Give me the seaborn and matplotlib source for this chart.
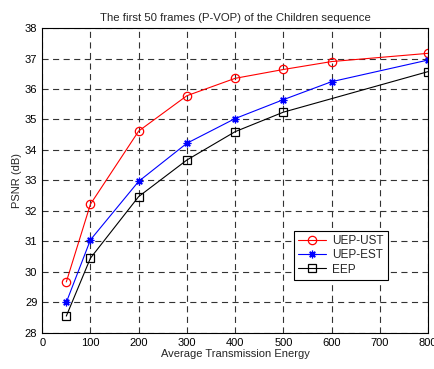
import matplotlib
matplotlib.use('Agg')
import matplotlib.pyplot as plt
import numpy as np
import pandas as pd
import seaborn as sns

# data
energy_ust = [50, 100, 200, 300, 400, 500, 600, 800]
psnr_ust = [29.67, 32.22, 34.62, 35.78, 36.35, 36.64, 36.90, 37.17]
energy_est = [50, 100, 200, 300, 400, 500, 600, 800]
psnr_est = [29.00, 31.05, 32.97, 34.22, 35.03, 35.65, 36.24, 36.95]
energy_eep = [50, 100, 200, 300, 400, 500, 800]
psnr_eep = [28.55, 30.45, 32.47, 33.67, 34.60, 35.24, 36.57]
series = ['UEP-UST', 'UEP-EST', 'EEP']

df = pd.concat([
    pd.DataFrame({'energy': energy_ust, 'psnr': psnr_ust, 'scheme': series[0]}),
    pd.DataFrame({'energy': energy_est, 'psnr': psnr_est, 'scheme': series[1]}),
    pd.DataFrame({'energy': energy_eep, 'psnr': psnr_eep, 'scheme': series[2]}),
]).reset_index(drop=True)

sns.set_style('white')
plt.rcParams['font.family'] = ['Liberation Sans', 'DejaVu Sans']

fig = plt.figure(figsize=(4.35, 3.69), dpi=100)
ax = fig.add_axes([0.097, 0.098, 0.887, 0.826])

palette = {'UEP-UST': 'red', 'UEP-EST': 'blue', 'EEP': 'black'}
markers = {'UEP-UST': 'o', 'UEP-EST': '*', 'EEP': 's'}
sns.lineplot(data=df, x='energy', y='psnr', hue='scheme', style='scheme',
             palette=palette, markers=markers, dashes=False, ax=ax,
             linewidth=0.8, markersize=6, hue_order=series, style_order=series,
             legend=False)

# matlab-like markers: open circle / square, asterisk
lines = ax.get_lines()[:3]
for line, name in zip(lines, series):
    line.set_markeredgecolor(line.get_color())
    line.set_markerfacecolor('none')
    line.set_markeredgewidth(0.9)
    if name == 'UEP-EST':
        line.set_marker((8, 2, 0))
        line.set_markersize(5.5)

# axis range, ticks, grid
ax.set_xlim(0, 800)
ax.set_ylim(28, 38)
ax.set_xticks(np.arange(0, 801, 100))
ax.set_yticks(np.arange(28, 39, 1))
ax.grid(True, color='0.2', linestyle=(0, (5.5, 4)), linewidth=0.8)
ax.tick_params(direction='in', labelsize=8, length=3, colors='black')
for sp in ax.spines.values():
    sp.set_color('black')
    sp.set_linewidth(0.8)

# labels, title, legend
ax.set_xlabel('Average Transmission Energy', fontsize=8, labelpad=1)
ax.set_ylabel('PSNR (dB)', fontsize=8, labelpad=2)
ax.set_title('The first 50 frames (P-VOP) of the Children sequence', fontsize=8.2, pad=5)
leg = ax.legend(lines, series, loc='upper left', bbox_to_anchor=(0.652, 0.335), fontsize=8.5,
                frameon=True, fancybox=False, handlelength=2.4, framealpha=1,
                borderpad=0.35, labelspacing=0.2, handletextpad=0.5, borderaxespad=0)
leg.get_frame().set_edgecolor('black')
leg.get_frame().set_linewidth(0.8)

plt.savefig('out.png', dpi=100)
